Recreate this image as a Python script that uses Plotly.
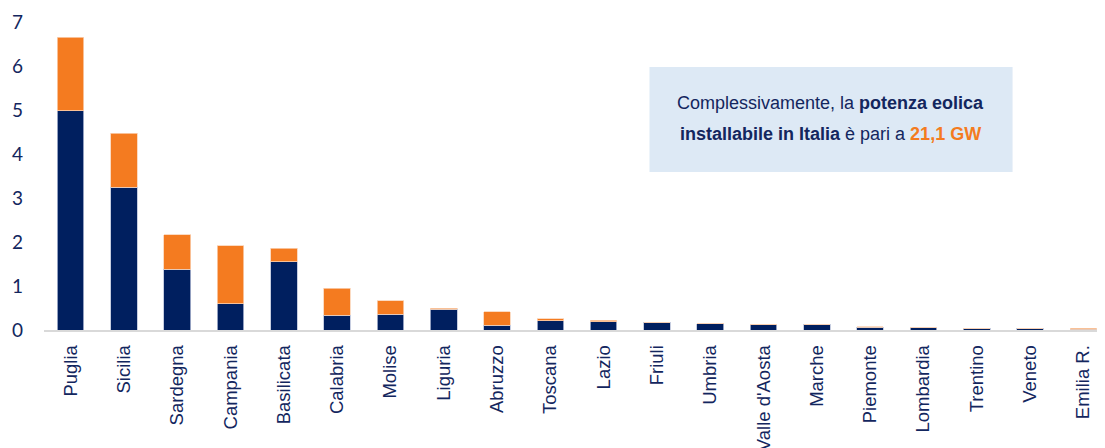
import plotly.graph_objects as go

regions = ["Puglia", "Sicilia", "Sardegna", "Campania", "Basilicata", "Calabria",
           "Molise", "Liguria", "Abruzzo", "Toscana", "Lazio", "Friuli", "Umbria",
           "Valle d'Aosta", "Marche", "Piemonte", "Lombardia", "Trentino", "Veneto",
           "Emilia R."]
installed = [4.98, 3.24, 1.38, 0.60, 1.55, 0.33, 0.36, 0.47, 0.11, 0.21, 0.19,
             0.18, 0.14, 0.125, 0.13, 0.065, 0.06, 0.045, 0.04, 0.02]
additional = [1.67, 1.23, 0.78, 1.32, 0.31, 0.62, 0.30, 0.03, 0.30, 0.05, 0.03,
              0.0, 0.0, 0.005, 0.0, 0.005, 0.0, 0.0, 0.0, 0.02]
y_ticks = [0, 1, 2, 3, 4, 5, 6, 7]

NAVY = "#001F5F"
ORANGE = "#F47B20"
TEXT = "#13265E"

fig = go.Figure()
fig.add_trace(go.Bar(x=regions, y=installed, marker=dict(color=NAVY, line=dict(color="#B8C0D8", width=0.8)),
                     width=0.5, name="installata"))
fig.add_trace(go.Bar(x=regions, y=additional, marker=dict(color=ORANGE, line=dict(color="#FAD2B4", width=0.8)),
                     width=0.5, name="aggiuntiva"))

fig.update_layout(
    barmode="stack",
    width=1105, height=448,
    margin=dict(l=36, r=3, t=14, b=126),
    paper_bgcolor="white", plot_bgcolor="white",
    showlegend=False,
    xaxis=dict(tickangle=-90, showline=True, linecolor="#D9D9D9", linewidth=1.5,
               ticks="", showgrid=False, automargin=False, ticklabelstandoff=6,
               tickfont=dict(family="Liberation Sans, Arial", size=18.5, color=TEXT)),
    yaxis=dict(range=[0, 7], tickvals=y_ticks, showgrid=False, zeroline=False,
               showline=False, ticks="", ticklabelstandoff=20, automargin=False,
               tickfont=dict(family="Lato, Calibri, sans-serif", size=19, color=TEXT)),
)

fig.add_shape(type="rect", xref="paper", yref="paper", x0=0.568, x1=0.9086, y0=0.513, y1=0.854,
              fillcolor="#DDE9F5", line=dict(width=0), layer="below")
fig.add_annotation(xref="paper", yref="paper", x=0.738, y=0.737, showarrow=False,
                   xanchor="center", yanchor="middle",
                   text="Complessivamente, la <b>potenza eolica</b>",
                   font=dict(family="Liberation Sans, Arial", size=18, color=TEXT))
fig.add_annotation(xref="paper", yref="paper", x=0.738, y=0.636, showarrow=False,
                   xanchor="center", yanchor="middle",
                   text="<b>installabile in Italia</b> è pari a <b><span style='color:%s'>21,1 GW</span></b>" % ORANGE,
                   font=dict(family="Liberation Sans, Arial", size=18, color=TEXT))

fig.write_html("out.html")
